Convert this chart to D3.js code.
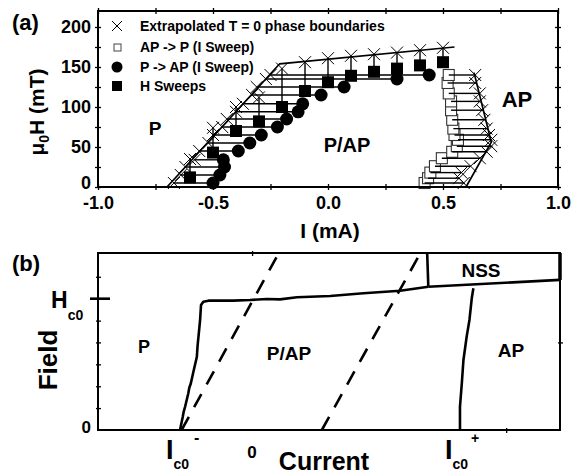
<!DOCTYPE html>
<html>
<head>
<meta charset="utf-8">
<script src="https://cdn.jsdelivr.net/npm/d3@7"></script>
<style>
body { margin: 0; background: #fff; }
text { font-family: "Liberation Sans", Arial, sans-serif; font-weight: bold; fill: #000; }
</style>
</head>
<body>
<svg id="fig" width="582" height="476"></svg>
<script>
// ---------- panel (a) ----------
var iTicks = [-1.0, -0.5, 0.0, 0.5, 1.0];
var iMinor = [-0.75, -0.25, 0.25, 0.75];
var hTicks = [0, 50, 100, 150, 200];
var hMinor = [25, 75, 125, 175];

// P -> AP (I sweep) : measured current and extrapolated T = 0 current at each field
var pApH   = [5, 15, 25, 34, 45, 55, 65, 75, 85, 94, 104, 115, 125, 135, 140];
var pApI   = [-0.50, -0.47, -0.45, -0.455, -0.39, -0.34, -0.29, -0.22, -0.18, -0.13, -0.11, -0.03, 0.07, 0.30, 0.44];
var pApExt = [-0.67, -0.64, -0.62, -0.58, -0.56, -0.52, -0.50, -0.46, -0.44, -0.40, -0.37, -0.33, -0.31, -0.27, -0.25];

// AP -> P (I sweep)
var apPH   = [5, 11, 18, 26, 36, 44, 51, 59, 65, 73, 84, 96, 107, 117, 130, 140];
var apPI   = [0.42, 0.435, 0.445, 0.465, 0.495, 0.54, 0.56, 0.565, 0.55, 0.545, 0.54, 0.535, 0.535, 0.525, 0.52, 0.525];
var apPExt = [0.59, 0.57, 0.58, 0.62, 0.66, 0.69, 0.71, 0.71, 0.70, 0.69, 0.68, 0.67, 0.66, 0.66, 0.64, 0.64];

// H sweeps : switching field and extrapolated T = 0 field at each current
var hSwI   = [-0.6, -0.5, -0.4, -0.3, -0.2, -0.1, 0.0, 0.1, 0.2, 0.3, 0.4, 0.5];
var hSwH   = [12, 43, 70, 82, 100, 120, 131, 139, 144, 148, 152, 156];
var hSwExt = [35, 74, 100, 112, 148, 156, 161, 164, 166, 168, 171, 174];

// fitted T = 0 phase boundaries
var leftBound  = [[-0.70, 0], [-0.21, 154], [0.55, 175]];
var rightBound = [[0.635, 143], [0.71, 56], [0.60, 0]];

var legendLabels = ['Extrapolated T = 0 phase boundaries', 'AP -> P (I Sweep)', 'P -> AP (I Sweep)', 'H Sweeps'];

// ---------- panel (b) (schematic, Hc0 = 1) ----------
var fieldTicks = [0.167, 0.333, 0.5, 0.667, 0.833, 1.167];
var pBound = [[-0.312, 0], [-0.300, 0.101], [-0.296, 0.14], [-0.290, 0.177], [-0.276, 0.280], [-0.272, 0.32],
              [-0.265, 0.356], [-0.254, 0.444], [-0.239, 0.558], [-0.236, 0.64], [-0.232, 0.711], [-0.225, 0.838],
              [-0.221, 0.952], [-0.211, 0.977], [-0.189, 0.985], [-0.081, 0.985], [-0.009, 0.990], [0.064, 0.998],
              [0.121, 0.995], [0.194, 1.011], [0.338, 1.021], [0.482, 1.041], [0.641, 1.061], [0.763, 1.091]];
var nssBottom = [[0.763, 1.091], [1.333, 1.143]];
var nssSide = [[0.758, 1.348], [0.763, 1.091]];
var apBound = [[0.958, 1.079], [0.951, 1.003], [0.941, 0.838], [0.929, 0.711], [0.915, 0.533],
               [0.908, 0.356], [0.900, 0.177], [0.900, 0]];
var dashLow = [[-0.305, 0], [0.107, 1.32]];
var dashHigh = [[0.302, 0], [0.720, 1.32]];


var svg = d3.select('#fig');

function xPath(s) {
	return 'M' + (-s) + ',' + (-s) + 'L' + s + ',' + s + 'M' + (-s) + ',' + s + 'L' + s + ',' + (-s);
}

function zip(a, b) {
	return a.map(function (d, i) { return [d, b[i]]; });
}

function crossTicks(g, axis, tx, ty) {
	g.append('g')
		.attr('transform', 'translate(' + tx + ',' + ty + ')')
		.call(axis.tickFormat(''))
		.call(function (s) { s.select('.domain').remove(); })
		.selectAll('line').attr('stroke', '#000').attr('stroke-width', 1.3);
}

function drawPanelA() {
	var x = d3.scaleLinear().domain([-1, 1]).range([98, 558]);
	var y = d3.scaleLinear().domain([0, 220]).range([187, 11]);
	var g = svg.append('g');
	var line = d3.line().x(function (d) { return x(d[0]); }).y(function (d) { return y(d[1]); });

	// hatching between measured points and extrapolated boundary
	g.selectAll('.hp').data(d3.range(pApH.length)).enter().append('line')
		.attr('x1', function (i) { return x(pApExt[i]); }).attr('x2', function (i) { return x(pApI[i]); })
		.attr('y1', function (i) { return y(pApH[i]); }).attr('y2', function (i) { return y(pApH[i]); })
		.attr('stroke', '#000').attr('stroke-width', 1.4);
	g.selectAll('.hs').data(d3.range(hSwI.length)).enter().append('line')
		.attr('x1', function (i) { return x(hSwI[i]); }).attr('x2', function (i) { return x(hSwI[i]); })
		.attr('y1', function (i) { return y(hSwH[i]); }).attr('y2', function (i) { return y(hSwExt[i]); })
		.attr('stroke', '#000').attr('stroke-width', 1.4);

	// open squares first, their hatch drawn on top
	g.selectAll('.ap').data(zip(apPI, apPH)).enter().append('rect')
		.attr('x', function (d) { return x(d[0]) - 5.5; }).attr('y', function (d) { return y(d[1]) - 5.5; })
		.attr('width', 11).attr('height', 11)
		.attr('fill', '#fff').attr('stroke', '#333').attr('stroke-width', 1.1);
	g.selectAll('.ha').data(d3.range(apPH.length)).enter().append('line')
		.attr('x1', function (i) { return x(apPI[i]); }).attr('x2', function (i) { return x(apPExt[i]); })
		.attr('y1', function (i) { return y(apPH[i]); }).attr('y2', function (i) { return y(apPH[i]); })
		.attr('stroke', '#000').attr('stroke-width', 1.4);

	// boundaries
	g.append('path').attr('d', line(leftBound)).attr('fill', 'none').attr('stroke', '#000').attr('stroke-width', 1.7);
	g.append('path').attr('d', line(rightBound)).attr('fill', 'none').attr('stroke', '#000').attr('stroke-width', 1.7);

	// extrapolated crosses
	var ext = zip(pApExt, pApH).concat(zip(apPExt, apPH)).concat(zip(hSwI, hSwExt));
	g.selectAll('.x').data(ext).enter().append('path')
		.attr('transform', function (d) { return 'translate(' + x(d[0]) + ',' + y(d[1]) + ')'; })
		.attr('d', xPath(6)).attr('stroke', '#000').attr('stroke-width', 1).attr('fill', 'none');

	// measured points
	g.selectAll('.c').data(zip(pApI, pApH)).enter().append('circle')
		.attr('cx', function (d) { return x(d[0]); }).attr('cy', function (d) { return y(d[1]); })
		.attr('r', 6.5).attr('fill', '#000');
	g.selectAll('.s').data(zip(hSwI, hSwH)).enter().append('rect')
		.attr('x', function (d) { return x(d[0]) - 6; }).attr('y', function (d) { return y(d[1]) - 6; })
		.attr('width', 12).attr('height', 12).attr('fill', '#000');

	// frame and ticks
	g.append('rect').attr('x', 98).attr('y', 11).attr('width', 460).attr('height', 176)
		.attr('fill', 'none').attr('stroke', '#000').attr('stroke-width', 2);
	crossTicks(g, d3.axisBottom(x).tickValues(iTicks.concat(iMinor)).tickSize(6), 0, 184);
	crossTicks(g, d3.axisBottom(x).tickValues(iTicks.concat(iMinor)).tickSize(6), 0, 8);
	crossTicks(g, d3.axisRight(y).tickValues(hTicks.concat(hMinor)).tickSize(6), 95, 0);
	crossTicks(g, d3.axisRight(y).tickValues(hTicks.concat(hMinor)).tickSize(6), 555, 0);

	g.append('g').attr('transform', 'translate(0,187)')
		.call(d3.axisBottom(x).tickValues(iTicks).tickSize(0).tickPadding(9)
			.tickFormat(function (d) { return d.toFixed(1); }))
		.call(function (s) { s.select('.domain').remove(); })
		.attr('font-family', '"Liberation Sans", Arial, sans-serif').attr('font-size', 18).attr('font-weight', 'bold');
	g.append('g').attr('transform', 'translate(98,0)')
		.call(d3.axisLeft(y).tickValues(hTicks).tickSize(0).tickPadding(7))
		.call(function (s) { s.select('.domain').remove(); })
		.attr('font-family', '"Liberation Sans", Arial, sans-serif').attr('font-size', 18).attr('font-weight', 'bold')
		.selectAll('.tick text').attr('dy', function (d) { return d === 0 ? '0.1em' : '0.32em'; });

	// titles
	g.append('text').attr('x', 330).attr('y', 238).attr('text-anchor', 'middle').attr('font-size', 21).text('I (mA)');
	var yt = g.append('text').attr('transform', 'translate(44,112) rotate(-90)').attr('text-anchor', 'middle').attr('font-size', 21);
	yt.append('tspan').text('\u03bc');
	yt.append('tspan').attr('font-size', 14).attr('dy', 5).text('0');
	yt.append('tspan').attr('dy', -5).text('H (mT)');
	g.append('text').attr('x', 12).attr('y', 30).attr('font-size', 22).text('(a)');

	// region labels
	g.append('text').attr('x', 155).attr('y', 135).attr('text-anchor', 'middle').attr('font-size', 19).text('P');
	g.append('text').attr('x', 347).attr('y', 152).attr('text-anchor', 'middle').attr('font-size', 20).text('P/AP');
	g.append('text').attr('x', 517).attr('y', 107).attr('text-anchor', 'middle').attr('font-size', 22).text('AP');

	// legend
	var leg = g.append('g');
	var ly = [26, 47, 67, 86];
	leg.selectAll('text').data(legendLabels).enter().append('text')
		.attr('x', 140).attr('y', function (d, i) { return ly[i] + 5; })
		.attr('font-size', 14).text(function (d) { return d; });
	leg.append('path').attr('transform', 'translate(117,' + ly[0] + ')').attr('d', xPath(5))
		.attr('stroke', '#000').attr('stroke-width', 1).attr('fill', 'none');
	leg.append('rect').attr('x', 114).attr('y', ly[1] - 3).attr('width', 7).attr('height', 7)
		.attr('fill', '#fff').attr('stroke', '#444');
	leg.append('circle').attr('cx', 117).attr('cy', ly[2]).attr('r', 5.5).attr('fill', '#000');
	leg.append('rect').attr('x', 112).attr('y', ly[3] - 5).attr('width', 10).attr('height', 10).attr('fill', '#000');
}

function drawPanelB() {
	var x = d3.scaleLinear().domain([-0.667, 1.333]).range([98, 560]);
	var y = d3.scaleLinear().domain([0, 1.348]).range([430, 253]);
	var g = svg.append('g');
	var line = d3.line().x(function (d) { return x(d[0]); }).y(function (d) { return y(d[1]); });

	[dashLow, dashHigh].forEach(function (d) {
		g.append('path').attr('d', line(d)).attr('fill', 'none').attr('stroke', '#000')
			.attr('stroke-width', 2.6).attr('stroke-dasharray', '15,11');
	});
	[pBound, nssBottom, nssSide, apBound].forEach(function (d) {
		g.append('path').attr('d', line(d)).attr('fill', 'none').attr('stroke', '#000')
			.attr('stroke-width', 2.6).attr('stroke-linejoin', 'round');
	});

	g.append('rect').attr('x', 98).attr('y', 253).attr('width', 462).attr('height', 177)
		.attr('fill', 'none').attr('stroke', '#000').attr('stroke-width', 2);
	g.append('path').attr('d', line([[1.333, 1.348], [1.333, 1.143]])).attr('stroke', '#000').attr('stroke-width', 3.5);

	crossTicks(g, d3.axisRight(y).tickValues(fieldTicks).tickSize(5), 96, 0);
	crossTicks(g, d3.axisRight(y).tickValues([0.667]).tickSize(5), 558, 0);
	crossTicks(g, d3.axisBottom(x).tickValues([0]).tickSize(5), 0, 251);
	crossTicks(g, d3.axisBottom(x).tickValues([1.1]).tickSize(5), 0, 428);
	// long Hc0 tick
	g.append('line').attr('x1', 90).attr('x2', 110).attr('y1', y(1)).attr('y2', y(1))
		.attr('stroke', '#000').attr('stroke-width', 2.6);

	g.append('text').attr('x', 91).attr('y', 433).attr('text-anchor', 'end').attr('font-size', 17).text('0');
	g.append('text').attr('x', x(0)).attr('y', 458).attr('text-anchor', 'middle').attr('font-size', 17).text('0');

	var hc = g.append('text').attr('x', 51).attr('y', 308).attr('font-size', 23);
	hc.append('tspan').text('H');
	hc.append('tspan').attr('font-size', 14).attr('dy', 12).text('c0');

	var im = g.append('text').attr('x', 166).attr('y', 459).attr('font-size', 27);
	im.append('tspan').text('I');
	im.append('tspan').attr('font-size', 14).attr('dy', 10).text('c0');
	im.append('tspan').attr('font-size', 16).attr('x', 194).attr('y', 443).text('-');

	var ip = g.append('text').attr('x', 445).attr('y', 459).attr('font-size', 27);
	ip.append('tspan').text('I');
	ip.append('tspan').attr('font-size', 14).attr('dy', 10).text('c0');
	ip.append('tspan').attr('font-size', 14).attr('x', 471).attr('y', 443).text('+');

	g.append('text').attr('x', 324).attr('y', 470).attr('text-anchor', 'middle').attr('font-size', 25).text('Current');
	g.append('text').attr('transform', 'translate(57,360) rotate(-90)').attr('text-anchor', 'middle')
		.attr('font-size', 26).text('Field');
	g.append('text').attr('x', 12).attr('y', 271).attr('font-size', 22).text('(b)');

	g.append('text').attr('x', 144).attr('y', 353).attr('text-anchor', 'middle').attr('font-size', 18).text('P');
	g.append('text').attr('x', 289).attr('y', 360).attr('text-anchor', 'middle').attr('font-size', 19).text('P/AP');
	g.append('text').attr('x', 511).attr('y', 357).attr('text-anchor', 'middle').attr('font-size', 19).text('AP');
	g.append('text').attr('x', 481).attr('y', 277).attr('text-anchor', 'middle').attr('font-size', 19).text('NSS');
}

drawPanelA();
drawPanelB();
</script>
</body>
</html>
